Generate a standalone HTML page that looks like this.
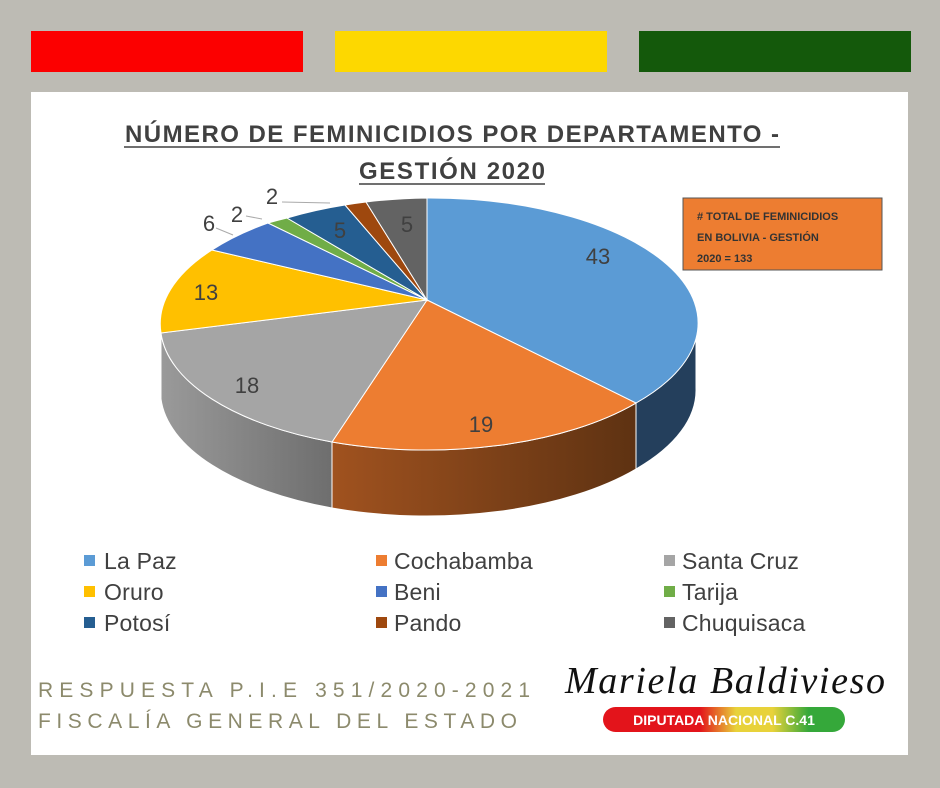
<!DOCTYPE html>
<html><head><meta charset="utf-8"><style>
body{margin:0;width:940px;height:788px;background:#bdbbb4;position:relative;overflow:hidden;font-family:"Liberation Sans",sans-serif}
.bar{position:absolute;top:31px;height:41px;width:272px}
.panel{position:absolute;left:31px;top:92px;width:877px;height:663px;background:#fff}
</style></head><body>
<div class="bar" style="left:31px;background:#fc0000"></div>
<div class="bar" style="left:335px;background:#fdd800"></div>
<div class="bar" style="left:639px;background:#14590b"></div>
<div class="panel"></div>
<svg width="940" height="788" style="position:absolute;left:0;top:0">
<defs>
<linearGradient id="gs" x1="0" x2="1"><stop offset="0" stop-color="#9a9a9a"/><stop offset="1" stop-color="#6e6e6e"/></linearGradient>
<linearGradient id="gc" x1="0" x2="1"><stop offset="0" stop-color="#a0521f"/><stop offset="1" stop-color="#5e3212"/></linearGradient>
<linearGradient id="pill" x1="0" x2="1"><stop offset="0.4" stop-color="#e3141b"/><stop offset="0.55" stop-color="#e8d23a"/><stop offset="0.7" stop-color="#e8d23a"/><stop offset="0.85" stop-color="#35a83a"/></linearGradient>
</defs>
<g font-family="Liberation Sans" font-weight="bold" fill="#404040" text-anchor="middle" font-size="24">
<text x="452" y="142" textLength="654">NÚMERO DE FEMINICIDIOS POR DEPARTAMENTO -</text>
<text x="452" y="179" textLength="186">GESTIÓN 2020</text>
</g>
<line x1="124" y1="147" x2="780" y2="147" stroke="#404040" stroke-width="1.5"/>
<line x1="359" y1="184" x2="545" y2="184" stroke="#404040" stroke-width="1.5"/>
<g stroke="#fff" stroke-width="1">
<path d="M161 333 A268 125 0 0 0 332 442 L332 508 A268 125 0 0 1 161 399 Z" fill="url(#gs)"/>
<path d="M332 442 A268 125 0 0 0 636 403 L636 469 A268 125 0 0 1 332 508 Z" fill="url(#gc)"/>
<path d="M636 403 A268 125 0 0 0 696 322 L696 388 A268 125 0 0 1 636 469 Z" fill="#243f5c"/>
</g>
<g stroke="#fff" stroke-width="1">
<path d="M427 300 L427 198 A268 125 0 0 1 636 403 Z" fill="#5b9bd5"/>
<path d="M427 300 L636 403 A268 125 0 0 1 332 442 Z" fill="#ed7d31"/>
<path d="M427 300 L332 442 A268 125 0 0 1 161 333 Z" fill="#a5a5a5"/>
<path d="M427 300 L161 333 A268 125 0 0 1 212 250 Z" fill="#ffc000"/>
<path d="M427 300 L212 250 A268 125 0 0 1 268 223 Z" fill="#4472c4"/>
<path d="M427 300 L268 223 A268 125 0 0 1 287 218 Z" fill="#70ad47"/>
<path d="M427 300 L287 218 A268 125 0 0 1 345 205 Z" fill="#255e91"/>
<path d="M427 300 L345 205 A268 125 0 0 1 366 202 Z" fill="#9e480e"/>
<path d="M427 300 L366 202 A268 125 0 0 1 427 198 Z" fill="#636363"/>
</g>
<g font-size="22" fill="#404040" text-anchor="middle">
<text x="598" y="264">43</text><text x="481" y="432">19</text><text x="247" y="393">18</text>
<text x="206" y="300">13</text><text x="209" y="231">6</text><text x="237" y="222">2</text>
<text x="272" y="204">2</text><text x="340" y="238">5</text><text x="407" y="232">5</text>
</g>
<path d="M216 228 L233 235 M246 216 L262 219 M282 202 L330 203" stroke="#aaa" fill="none"/>
<rect x="683" y="198" width="199" height="72" fill="#ed7d31" stroke="#555"/>
<g font-size="11" font-weight="bold" fill="#333"><text x="697" y="220"># TOTAL DE FEMINICIDIOS</text><text x="697" y="241">EN BOLIVIA - GESTIÓN</text><text x="697" y="262">2020 = 133</text></g>
<g font-size="23" fill="#404040" letter-spacing="0.2">
<rect x="84" y="555" width="11" height="11" fill="#5b9bd5"/><text x="104" y="569">La Paz</text>
<rect x="376" y="555" width="11" height="11" fill="#ed7d31"/><text x="394" y="569">Cochabamba</text>
<rect x="664" y="555" width="11" height="11" fill="#a5a5a5"/><text x="682" y="569">Santa Cruz</text>
<rect x="84" y="586" width="11" height="11" fill="#ffc000"/><text x="104" y="600">Oruro</text>
<rect x="376" y="586" width="11" height="11" fill="#4472c4"/><text x="394" y="600">Beni</text>
<rect x="664" y="586" width="11" height="11" fill="#70ad47"/><text x="682" y="600">Tarija</text>
<rect x="84" y="617" width="11" height="11" fill="#255e91"/><text x="104" y="631">Potosí</text>
<rect x="376" y="617" width="11" height="11" fill="#9e480e"/><text x="394" y="631">Pando</text>
<rect x="664" y="617" width="11" height="11" fill="#636363"/><text x="682" y="631">Chuquisaca</text>
</g>
<g font-size="21" fill="#8c8a6c">
<text x="38" y="697" textLength="492">RESPUESTA  P.I.E 351/2020-2021</text>
<text x="38" y="728" textLength="479">FISCALÍA GENERAL DEL ESTADO</text>
</g>
<text x="565" y="693" font-family="Liberation Serif" font-style="italic" font-size="38" fill="#111" textLength="320">Mariela Baldivieso</text>
<rect x="603" y="707" width="242" height="25" rx="12.5" fill="url(#pill)"/>
<text x="724" y="725" text-anchor="middle" font-size="14" font-weight="bold" fill="#fff">DIPUTADA NACIONAL C.41</text>
</svg>
</body></html>
